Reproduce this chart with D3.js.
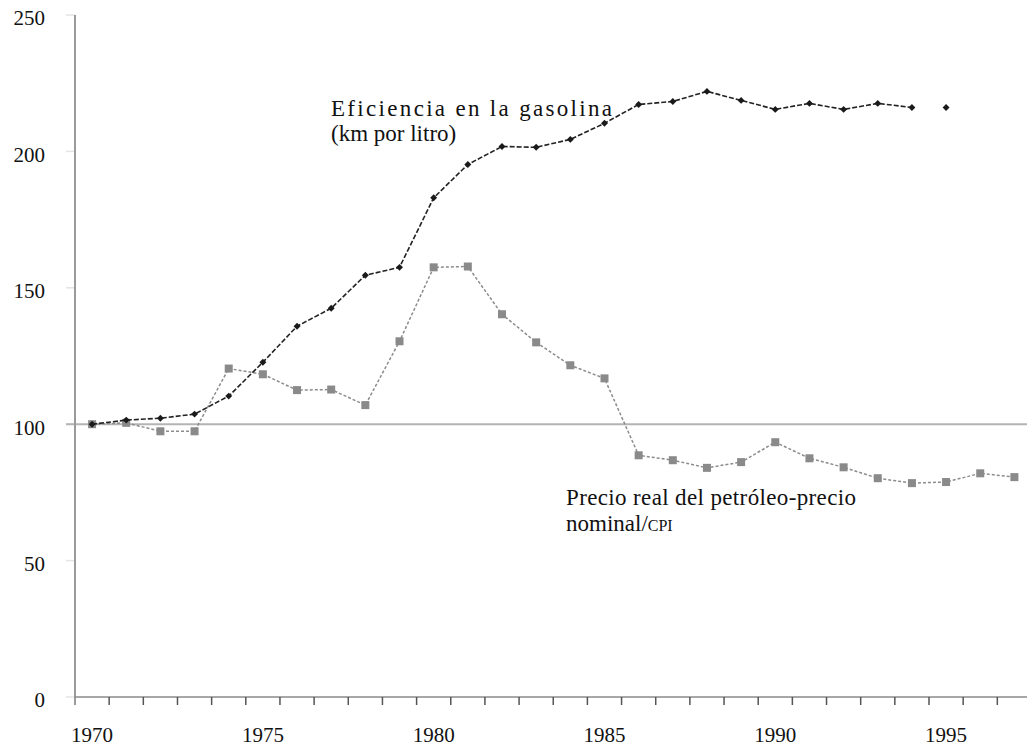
<!DOCTYPE html>
<html>
<head>
<meta charset="utf-8">
<script src="https://cdn.jsdelivr.net/npm/d3@7/dist/d3.min.js"></script>
<style>
  html, body { margin: 0; padding: 0; background: #fff; }
  svg { display: block; }
</style>
</head>
<body>
<svg id="chart" width="1027" height="746"></svg>
<script>
// Years on the horizontal axis (one band per year)
const years = d3.range(1970, 1998);
const yearLabels = [1970, 1975, 1980, 1985, 1990, 1995];
const yTicks = [0, 50, 100, 150, 200, 250];

// Fuel efficiency index (1970 = 100)
const efficiencyYears = d3.range(1970, 1996);
const efficiency = [100, 101.5, 102.2, 103.7, 110.3, 122.7, 135.9, 142.5, 154.6, 157.5,
                    183, 195.2, 201.8, 201.5, 204.4, 210.3, 217.2, 218.3, 222, 218.7,
                    215.4, 217.6, 215.4, 217.6, 216.1, 216.1];
// The last value is plotted on its own, not joined to the line
const efficiencyJoinedUntil = 1994;

// Real oil price index (nominal price / CPI, 1970 = 100)
const priceYears = d3.range(1970, 1998);
const price = [100, 100.5, 97.4, 97.4, 120.4, 118.3, 112.5, 112.7, 107, 130.4,
               157.5, 157.8, 140.3, 130, 121.6, 116.8, 88.6, 86.8, 84, 86.1,
               93.4, 87.5, 84.2, 80.2, 78.4, 78.8, 82, 80.6];

const serif = "'Liberation Serif', 'Times New Roman', Times, serif";

const svg = d3.select("#chart")
  .attr("font-family", serif)
  .style("font-family", serif);

const x = d3.scaleBand().domain(years).range([75, 75 + years.length * 34.16]);
const y = d3.scaleLinear().domain([0, 250]).range([697, 15]);
const cx = d => x(d) + x.bandwidth() / 2;

// Faint y ticks
svg.append("g")
  .selectAll("line")
  .data(yTicks)
  .join("line")
  .attr("x1", 66).attr("x2", 75)
  .attr("y1", d => y(d)).attr("y2", d => y(d))
  .attr("stroke", "#e4e4e4").attr("stroke-width", 1.5);

// Y tick labels
svg.append("g")
  .selectAll("text")
  .data(yTicks)
  .join("text")
  .attr("font-family", serif)
  .attr("x", 45)
  .attr("y", d => y(d) + 3)
  .attr("dy", "0.35em")
  .attr("text-anchor", "end")
  .attr("font-size", 21)
  .attr("fill", "#111")
  .text(d => d);

// Reference line at 100
svg.append("line")
  .attr("x1", 66).attr("x2", 1027)
  .attr("y1", y(100)).attr("y2", y(100))
  .attr("stroke", "#b4b4b4").attr("stroke-width", 2);

// Vertical axis line
svg.append("line")
  .attr("x1", 75).attr("x2", 75)
  .attr("y1", y(250)).attr("y2", 705)
  .attr("stroke", "#9a9a9a").attr("stroke-width", 2);

// Horizontal axis line
svg.append("line")
  .attr("x1", 75).attr("x2", 1027)
  .attr("y1", y(0)).attr("y2", y(0))
  .attr("stroke", "#8a8a8a").attr("stroke-width", 1.5);

// Year boundary ticks
svg.append("g")
  .selectAll("line")
  .data(years.slice(1))
  .join("line")
  .attr("x1", d => x(d)).attr("x2", d => x(d))
  .attr("y1", y(0)).attr("y2", y(0) + 8)
  .attr("stroke", "#555").attr("stroke-width", 1.5);

// Year labels
svg.append("g")
  .selectAll("text")
  .data(yearLabels)
  .join("text")
  .attr("font-family", serif)
  .attr("x", d => cx(d))
  .attr("y", 742)
  .attr("text-anchor", "middle")
  .attr("font-size", 21)
  .attr("fill", "#111")
  .text(d => d);

// Oil price series
const priceData = priceYears.map((yr, i) => ({ yr, v: price[i] }));
svg.append("path")
  .datum(priceData)
  .attr("fill", "none")
  .attr("stroke", "#8c8c8c")
  .attr("stroke-width", 1.5)
  .attr("stroke-dasharray", "3,2")
  .attr("d", d3.line().x(d => cx(d.yr)).y(d => y(d.v)));
svg.append("g")
  .selectAll("rect")
  .data(priceData)
  .join("rect")
  .attr("x", d => cx(d.yr) - 4)
  .attr("y", d => y(d.v) - 4)
  .attr("width", 8).attr("height", 8)
  .attr("fill", "#8a8a8a");

// Efficiency series
const effData = efficiencyYears.map((yr, i) => ({ yr, v: efficiency[i] }));
svg.append("path")
  .datum(effData.filter(d => d.yr <= efficiencyJoinedUntil))
  .attr("fill", "none")
  .attr("stroke", "#222")
  .attr("stroke-width", 1.6)
  .attr("stroke-dasharray", "5,2")
  .attr("d", d3.line().x(d => cx(d.yr)).y(d => y(d.v)));
const diamond = d3.symbol().type(d3.symbolSquare).size(24);
svg.append("g")
  .selectAll("path")
  .data(effData)
  .join("path")
  .attr("transform", d => `translate(${cx(d.yr)},${y(d.v)}) rotate(45)`)
  .attr("d", diamond)
  .attr("fill", "#1a1a1a");

// Series annotations
svg.append("text")
  .attr("font-family", serif)
  .attr("x", 331).attr("y", 116)
  .attr("font-size", 23)
  .attr("fill", "#111")
  .attr("textLength", 281)
  .attr("lengthAdjust", "spacing")
  .text("Eficiencia en la gasolina");
svg.append("text")
  .attr("font-family", serif)
  .attr("x", 331).attr("y", 141)
  .attr("font-size", 23)
  .attr("fill", "#111")
  .text("(km por litro)");

svg.append("text")
  .attr("font-family", serif)
  .attr("x", 566).attr("y", 505)
  .attr("font-size", 23)
  .attr("fill", "#111")
  .attr("textLength", 290)
  .attr("lengthAdjust", "spacing")
  .text("Precio real del petróleo-precio");
const nominal = svg.append("text")
  .attr("font-family", serif)
  .attr("x", 566).attr("y", 531)
  .attr("font-size", 23)
  .attr("fill", "#111");
nominal.append("tspan").text("nominal/");
nominal.append("tspan").attr("font-size", 16).text("CPI");
</script>
</body>
</html>
